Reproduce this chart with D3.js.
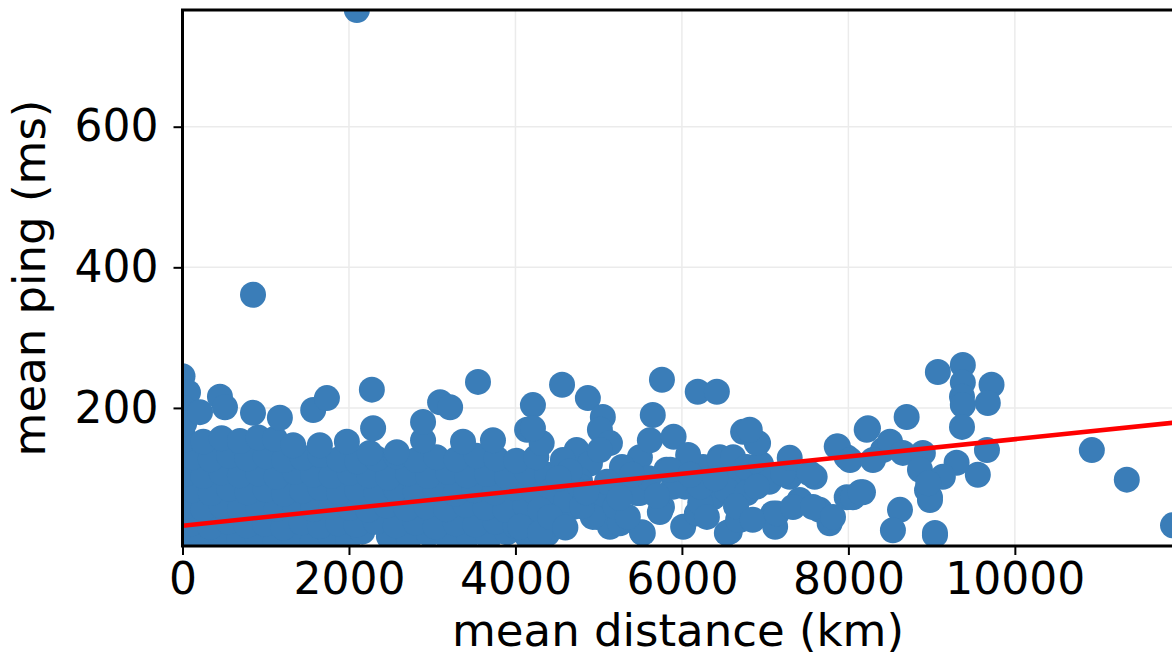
<!DOCTYPE html>
<html>
<head>
    <title>mean ping vs mean distance</title>
    <script src="https://cdn.jsdelivr.net/npm/d3@7"></script>
    <style>
    body { margin: 0; background: white; }
    .tick text, .label {
        font-family: "DejaVu Sans", sans-serif;
        font-size: 44px;
        fill: black;
    }
    .label { font-size: 45px; }
    .grid line { stroke: #ebebeb; stroke-width: 1.5px; }
    .dot { fill: #3a7db8; }
    .fit { stroke: red; stroke-width: 4.5px; fill: none; }
    </style>
</head>
<body>
<script>
// ---- data ----
var distanceKm = [
    // bottom row of the dense mass
    20, 240, 460, 680, 900, 1120, 1340, 1560, 1780, 1990, 2160, 2480, 2720, 2960, 3200, 3440, 3680, 3900, 4150, 4380,
    110, 330, 550, 770, 990, 1210, 1430, 1650, 1870, 2090, 2320, 2560, 2800, 3040, 3280, 3520, 3760, 4000, 4240, 4470,
    30, 250, 470, 690, 910, 1130, 1350, 1570, 1790, 2010, 2230, 2450, 2690, 2930, 3170, 3400, 3640, 3880, 4120, 4360, 4600,
    120, 340, 560, 780, 1000, 1220, 1440, 1660, 1880, 2100, 2330, 2560, 2800, 3040, 3280, 3510, 3750, 3990, 4230, 4470,
    30, 250, 470, 690, 910, 1130, 1350, 1570, 1790, 2010, 2240, 2470, 2710, 2950, 3190, 3420, 3660, 3900, 4140, 4380,
    120, 340, 560, 780, 1000, 1220, 1440, 1660, 1880, 2100, 2330, 2570, 2810, 3050, 3290, 3530, 3770, 4010, 4250,
    30, 250, 470, 690, 910, 1110, 1330, 1650, 1975, 2250, 2575, 2890, 3370, 3730, 4140, 4315,
    // upper edge of the mass
    0, 66, 10, 20, 210, 450, 510, 847, 1170, 1570, 1735, 2275, 2290, 2890, 3095, 3215, 3550, 4210, 4210, 4560,
    // outliers
    847, 2095,
    // 4000 - 7000 km
    4435, 4295, 4055, 4295, 4690, 4980, 5135, 5530, 5760, 6015, 6180, 6575, 6700, 6375, 6035, 6255, 6455, 6615,
    6855, 5815, 5495, 5900, 5495, 5335, 4870, 5050, 5015, 5135, 5280, 5650, 5760, 5615, 5900, 6190, 6420, 6735,
    6915, 4735, 4895, 5015, 4775, 4615, 5015, 5460, 4775, 4930, 5255, 5735, 5520, 6540, 6675, 6220, 6220, 6540,
    6780, 6075, 5860, 6455, 6615, 6780, 4570, 4415,
    4650, 4800, 5100, 5200, 5350, 5600, 5700, 6100, 6300, 4520, 4600, 5400, 6650, 6950, 7050, 4850, 5250, 6400,
    // 6800 - 9000 km
    6900, 6815, 6900, 7295, 7595, 8175, 7980, 7415, 7095, 7120, 7775, 7655, 8620, 8535, 9040, 6850, 7140, 7335,
    7575, 7815, 8055, 7215, 7535, 7860, 7980, 8220, 8415, 8700, 8235, 7875, 8020, 8500, 8295, 8655, 8895, 8860,
    8945, 8980, 7295, 8145,
    // far cluster
    9075, 9375, 9375, 9365, 9375, 9720, 9675, 9365, 9665, 9555, 9300, 8980, 9040, 9135, 8960, 10925, 11345, 11900
];

var pingMs = [
    14, 10, 16, 12, 18, 11, 15, 9, 17, 13, 24, 17, 14, 21, 12, 19, 15, 23, 16, 21,
    36, 31, 38, 33, 35, 30, 37, 32, 36, 34, 38, 33, 37, 31, 36, 34, 38, 32, 37, 35,
    60, 56, 61, 55, 59, 57, 62, 56, 60, 58, 55, 61, 57, 60, 56, 62, 58, 55, 61, 57, 60,
    83, 79, 85, 80, 84, 78, 82, 86, 80, 83, 79, 85, 81, 84, 78, 83, 80, 86, 81, 84,
    106, 103, 108, 104, 107, 102, 109, 105, 103, 108, 104, 101, 107, 103, 109, 104, 106, 102, 108, 105,
    130, 127, 132, 128, 131, 126, 129, 133, 127, 124, 128, 131, 126, 130, 127, 132, 128, 125, 130,
    155, 152, 157, 153, 158, 156, 147, 147, 152, 136, 137, 154, 152, 154, 169, 150,
    245, 222, 200, 178, 194, 216, 201, 193, 186, 197, 214, 226, 171, 180, 208, 201, 237, 204, 171, 233,
    361, 766,
    83, 55, 31, 22, 59, 45, 31, 22, 59, 31, 50, 24, 41, 73, 88, 116, 130, 107,
    97, 112, 130, 88, 79, 93, 214, 187, 169, 150, 116, 190, 240, 154, 159, 223, 223, 166,
    150, 140, 121, 140, 97, 69, 69, 79, 88, 45, 36, 52, 23, 22, 41, 65, 88, 83,
    79, 133, 112, 126, 130, 116, 126, 45,
    110, 60, 95, 60, 45, 100, 75, 105, 45, 100, 30, 105, 60, 120, 95, 80, 72, 100,
    150, 169, 88, 102, 102, 80, 73, 69, 50, 31, 36, 55, 55, 26, 22, 41, 50, 59,
    59, 45, 73, 107, 107, 145, 130, 169, 140, 187, 171, 145, 126, 152, 126, 136, 136, 112,
    83, 69, 129, 80,
    251, 261, 236, 216, 204, 233, 207, 173, 140, 105, 122, 73, 19, 102, 93, 140, 98, 33
];

var fitIntercept = 32.5;
var fitSlope = 0.0123;

var xTicks = [0, 2000, 4000, 6000, 8000, 10000];
var yTicks = [200, 400, 600];

var points = distanceKm.map(function (d, i) { return { x: d, y: pingMs[i] }; });

var width = 1172, height = 658;
var padL = 182.5, padR = 1173, padT = 10, padB = 546;

var x = d3.scaleLinear().domain([0, 11900]).range([padL, padR]);
var y = d3.scaleLinear().domain([3.6, 766]).range([padB, padT]);

var svg = d3.select("body").append("svg")
    .attr("width", width)
    .attr("height", height);

svg.append("defs").append("clipPath")
    .attr("id", "plot-clip")
  .append("rect")
    .attr("x", padL)
    .attr("y", padT)
    .attr("width", padR - padL)
    .attr("height", padB - padT);

// grid
var grid = svg.append("g").attr("class", "grid");
grid.selectAll(".gx").data(xTicks).enter().append("line")
    .attr("x1", function (d) { return x(d); })
    .attr("x2", function (d) { return x(d); })
    .attr("y1", padT).attr("y2", padB);
grid.selectAll(".gy").data(yTicks).enter().append("line")
    .attr("x1", padL).attr("x2", padR)
    .attr("y1", function (d) { return y(d); })
    .attr("y2", function (d) { return y(d); });

var plot = svg.append("g").attr("clip-path", "url(#plot-clip)");

plot.selectAll(".dot")
    .data(points)
    .enter().append("circle")
    .attr("class", "dot")
    .attr("cx", function (d) { return x(d.x); })
    .attr("cy", function (d) { return y(d.y); })
    .attr("r", 13);

var fitLine = d3.line()
    .x(function (d) { return x(d); })
    .y(function (d) { return y(fitIntercept + fitSlope * d); });

plot.append("path")
    .datum([0, 11900])
    .attr("class", "fit")
    .attr("d", fitLine);

// axes
var xAxis = svg.append("g")
    .attr("transform", "translate(0," + padB + ")")
    .call(d3.axisBottom(x).tickValues(xTicks).tickFormat(d3.format("d"))
        .tickSize(9).tickPadding(8).tickSizeOuter(0));
var yAxis = svg.append("g")
    .attr("transform", "translate(" + padL + ",0)")
    .call(d3.axisLeft(y).tickValues(yTicks).tickFormat(d3.format("d"))
        .tickSize(9).tickPadding(15).tickSizeOuter(0));

[xAxis, yAxis].forEach(function (a) {
    a.select(".domain").remove();
    a.selectAll(".tick line").attr("stroke", "black").attr("stroke-width", 2);
    a.attr("font-family", null).attr("font-size", null);
});

// spines (the right one sits just off the picture)
svg.append("path")
    .attr("d", "M" + padR + "," + padT + "H" + padL + "V" + padB + "H" + padR)
    .attr("fill", "none")
    .attr("stroke", "black")
    .attr("stroke-width", 3);

svg.append("text")
    .attr("class", "label")
    .attr("text-anchor", "middle")
    .attr("x", 678)
    .attr("y", 646)
    .text("mean distance (km)");

svg.append("text")
    .attr("class", "label")
    .attr("text-anchor", "middle")
    .attr("transform", "translate(45,278) rotate(-90)")
    .text("mean ping (ms)");
</script>
</body>
</html>
